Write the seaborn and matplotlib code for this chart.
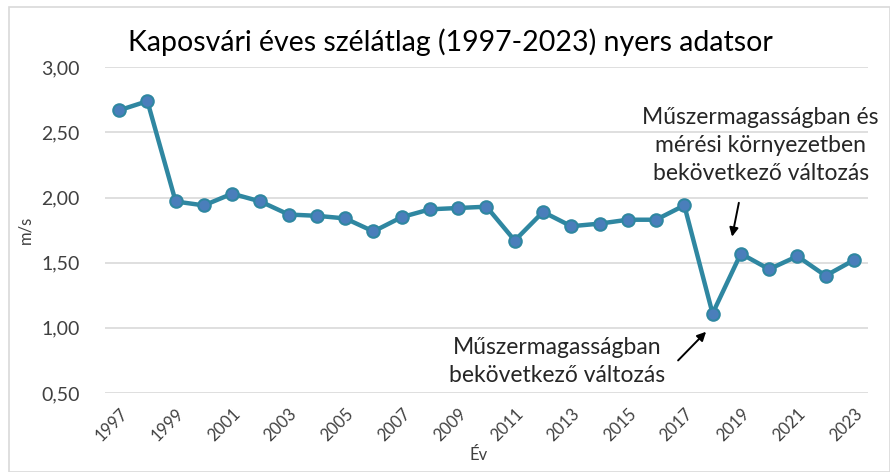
import matplotlib
matplotlib.use("Agg")
import matplotlib.pyplot as plt
import matplotlib.ticker as mticker
from matplotlib.patches import Rectangle
import seaborn as sns
import pandas as pd

years = list(range(1997, 2024))
wind = [2.67, 2.74, 1.97, 1.94, 2.03, 1.97, 1.87, 1.86, 1.84, 1.74, 1.85,
        1.91, 1.92, 1.93, 1.67, 1.89, 1.78, 1.80, 1.83, 1.83, 1.94, 1.11,
        1.57, 1.45, 1.55, 1.40, 1.52]
tick_years = list(range(1997, 2024, 2))
yticks = [0.5, 1.0, 1.5, 2.0, 2.5, 3.0]

title = "Kaposvári éves szélátlag (1997-2023) nyers adatsor"
note1 = "Műszermagasságban és\nmérési környezetben\nbekövetkező változás"
note2 = "Műszermagasságban\nbekövetkező változás"

sns.set_theme(style="white")
plt.rcParams['font.family'] = ['Lato', 'DejaVu Sans']

df = pd.DataFrame({"Év": years, "m/s": wind})

fig = plt.figure(figsize=(8.9, 4.72), dpi=100)
ax = fig.add_axes([105/890, 1 - 393/472, (868 - 105)/890, (393 - 67.3)/472])

line_col = "#2F87A1"
sns.lineplot(data=df, x="Év", y="m/s", ax=ax, color=line_col, linewidth=3.2,
             marker="o", markersize=9, markerfacecolor="#4A7EBB",
             markeredgecolor=line_col, markeredgewidth=1.5, zorder=3)

ax.set_xlim(1996.5, 2023.5)
ax.set_ylim(0.5, 3.0)
ax.set_yticks(yticks)
ax.yaxis.set_major_formatter(mticker.FuncFormatter(lambda v, p: f"{v:.2f}".replace(".", ",")))
ax.set_xticks(tick_years)
ax.set_xticklabels([str(y) for y in tick_years], rotation=45, ha="right",
                   rotation_mode="anchor", fontsize=12, color="#404040")
ax.tick_params(axis="y", labelsize=14, colors="#404040", length=0, pad=18)
ax.tick_params(axis="x", length=0, pad=9)
ax.grid(axis="y", color="#D9D9D9", linewidth=1.2)
ax.grid(axis="x", visible=False)
for s in ax.spines.values():
    s.set_visible(False)

ax.set_xlabel("Év", fontsize=12, color="#404040")
ax.xaxis.set_label_coords(0.49, -0.165)
ax.set_ylabel("m/s", fontsize=12, color="#404040", labelpad=6)

fig.text(450/890, 1 - 42/472, title, ha="center", va="center", fontsize=20.5, color="#000000")

ax.text(2019.7, 2.40, note1, ha="center", va="center", fontsize=16.5,
        color="#262626", linespacing=1.42, clip_on=False)
ax.annotate("", xy=(2018.69, 1.70), xytext=(2018.93, 1.96),
            arrowprops=dict(arrowstyle="-|>", color="black", lw=1.4,
                            shrinkA=0, shrinkB=0, mutation_scale=13))
ax.text(2012.5, 0.74, note2, ha="center", va="center", fontsize=16.5,
        color="#262626", linespacing=1.42)
ax.annotate("", xy=(2017.77, 0.97), xytext=(2016.78, 0.75),
            arrowprops=dict(arrowstyle="-|>", color="black", lw=1.4,
                            shrinkA=0, shrinkB=0, mutation_scale=13))

fig.add_artist(Rectangle((9/890, 0), 1 - 9/890, 1 - 7/472, transform=fig.transFigure,
                         fill=False, edgecolor="#D9D9D9", linewidth=1.2))

fig.savefig("out.png", dpi=100, facecolor="white")
